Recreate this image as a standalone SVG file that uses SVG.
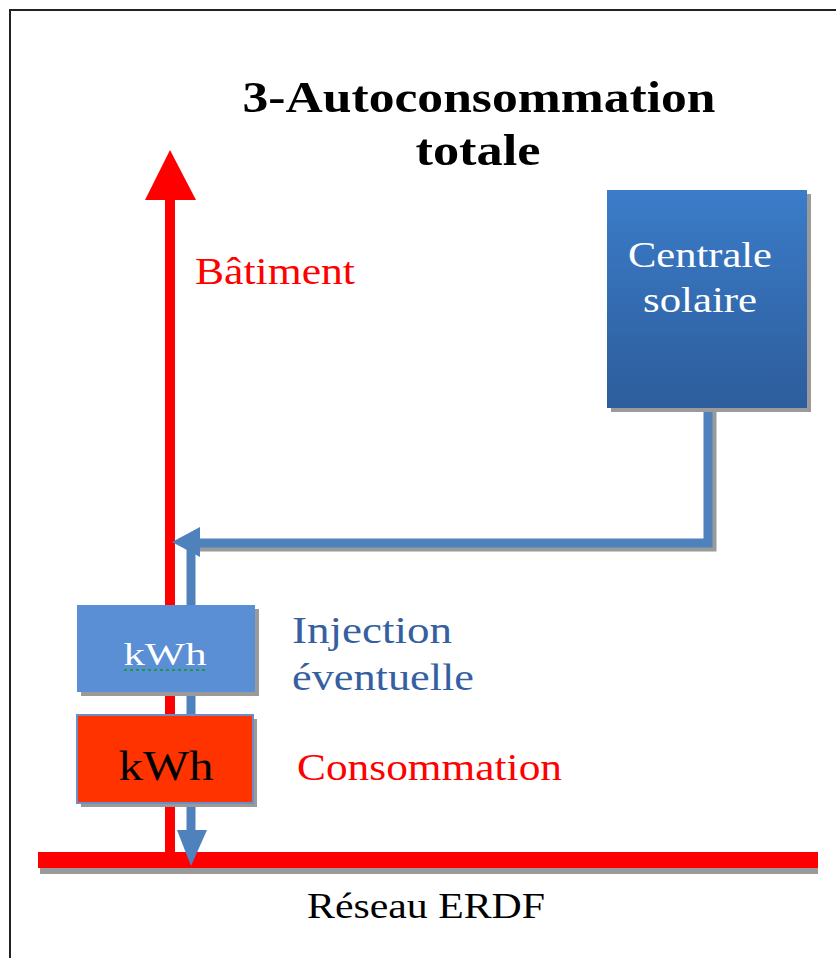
<svg xmlns="http://www.w3.org/2000/svg" width="836" height="958" viewBox="0 0 836 958">
<style>
.serif{font-family:"Liberation Serif","DejaVu Serif",serif}
.title{font-size:45px;font-weight:bold;fill:#000}
.lbl{font-size:38px}
.shadow{fill:#9a9a9a}
.blue{stroke:#4f81bd;stroke-width:9;fill:none}
</style>
<defs>
<linearGradient id="solar" x1="0" y1="0" x2="0" y2="1">
<stop offset="0" stop-color="#3b7cc9"/>
<stop offset="1" stop-color="#2d5d9c"/>
</linearGradient>
</defs>
<rect x="10" y="10" width="840" height="960" fill="#fff" stroke="#222" stroke-width="2"/>
<g id="title">
<text class="serif title" x="479" y="112" text-anchor="middle" textLength="473" lengthAdjust="spacingAndGlyphs">3-Autoconsommation</text>
<text class="serif title" x="478" y="165" text-anchor="middle" textLength="125" lengthAdjust="spacingAndGlyphs">totale</text>
</g>
<g id="connectors">
<rect x="40" y="866" width="778" height="8" class="shadow"/>
<rect x="38" y="852" width="780" height="16" fill="#ff0000"/>
<rect x="165" y="195" width="10" height="672" fill="#ff0000"/>
<polygon points="170,150 145,200 196,200" fill="#ff0000"/>
<polyline points="712,400 712,547 200,547" stroke="#9a9a9a" stroke-width="9" fill="none"/>
<polyline points="708,398 708,543 196,543" class="blue"/>
<polygon points="172,542 200,527 200,557" fill="#4f81bd"/>
<line x1="191" y1="545" x2="191" y2="835" class="blue"/>
<polygon points="177,830 207,830 191,866" fill="#4f81bd"/>
</g>
<g id="batiment">
<text class="serif lbl" x="195" y="284" fill="#ff0000" textLength="160" lengthAdjust="spacingAndGlyphs">Bâtiment</text>
</g>
<g id="centrale">
<rect x="611" y="194" width="200" height="218" class="shadow"/>
<rect x="607" y="190" width="200" height="218" fill="url(#solar)"/>
<text class="serif" font-size="36" x="700" y="267" fill="#fff" text-anchor="middle" textLength="144" lengthAdjust="spacingAndGlyphs">Centrale</text>
<text class="serif" font-size="36" x="700" y="312" fill="#fff" text-anchor="middle" textLength="114" lengthAdjust="spacingAndGlyphs">solaire</text>
</g>
<g id="kwh-injection">
<rect x="81" y="609" width="178" height="87" class="shadow"/>
<rect x="77" y="605" width="178" height="87" fill="#5a8fd5"/>
<text class="serif" x="165" y="665" font-size="32" fill="#fff" text-anchor="middle" textLength="83" lengthAdjust="spacingAndGlyphs">kWh</text>
<line x1="124" y1="670" x2="207" y2="670" stroke="#1f9a3a" stroke-width="2" stroke-dasharray="3,3"/>
<text class="serif lbl" x="292" y="643" fill="#35609f" textLength="160" lengthAdjust="spacingAndGlyphs">Injection</text>
<text class="serif lbl" x="292" y="690" fill="#35609f" textLength="182" lengthAdjust="spacingAndGlyphs">éventuelle</text>
</g>
<g id="kwh-consommation">
<rect x="81" y="719" width="176" height="88" class="shadow"/>
<rect x="77" y="715" width="176" height="88" fill="#ff3300" stroke="#6a8fc8" stroke-width="2"/>
<text class="serif" x="166" y="780" font-size="42" fill="#000" text-anchor="middle" textLength="95" lengthAdjust="spacingAndGlyphs">kWh</text>
<text class="serif lbl" x="297" y="780" fill="#ff0000" textLength="265" lengthAdjust="spacingAndGlyphs">Consommation</text>
</g>
<g id="reseau">
<text class="serif" x="426" y="918" font-size="36" fill="#000" text-anchor="middle" textLength="238" lengthAdjust="spacingAndGlyphs">Réseau ERDF</text>
</g>
</svg>
